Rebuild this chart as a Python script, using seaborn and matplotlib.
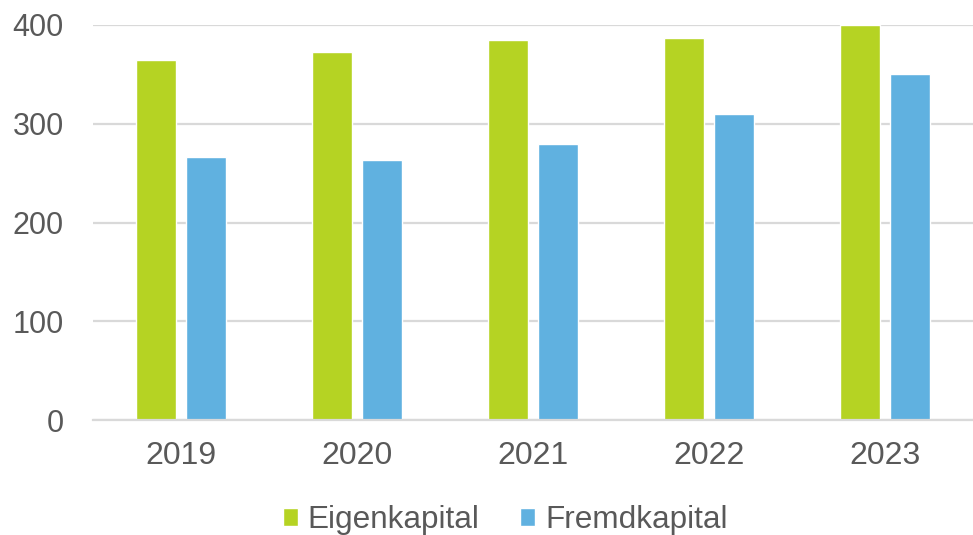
import pandas as pd
import seaborn as sns
import matplotlib.pyplot as plt

# Daten
jahre = ['2019', '2020', '2021', '2022', '2023']
eigenkapital = [365, 373, 385, 387, 400]
fremdkapital = [266, 263, 280, 310, 350]

df = pd.DataFrame({
    'Jahr': jahre * 2,
    'Wert': eigenkapital + fremdkapital,
    'Art': ['Eigenkapital'] * 5 + ['Fremdkapital'] * 5,
})

sns.set_theme(style='white')
plt.rcParams['font.family'] = ['Liberation Sans', 'DejaVu Sans']

grau = '#595959'
linie = '#D9D9D9'

fig = plt.figure(figsize=(9.73, 5.35), dpi=100)
ax = fig.add_axes([93 / 973, 115 / 535, 880 / 973, 395 / 535])

sns.barplot(data=df, x='Jahr', y='Wert', hue='Art',
            palette=['#B5D323', '#60B1E0'], width=0.574, gap=0.21,
            saturation=1, ax=ax, legend=True)

ax.set_ylim(0, 400)
ax.set_xlim(-0.5, 4.5)
ax.set_yticks([0, 100, 200, 300, 400])
ax.set(xlabel='', ylabel='')
ax.yaxis.grid(True, color=linie, linewidth=1.6)
ax.set_axisbelow(True)
for s in ['top', 'right', 'left']:
    ax.spines[s].set_visible(False)
ax.spines['bottom'].set_color(linie)
ax.spines['bottom'].set_linewidth(1.6)
ax.tick_params(axis='both', length=0, labelsize=22, colors=grau)
ax.tick_params(axis='y', pad=21)
ax.tick_params(axis='x', pad=15, labelsize=23)

ax.legend_.remove()
handles, labels = ax.get_legend_handles_labels()
fig.legend(handles, labels, loc='center', bbox_to_anchor=(0.519, 0.028),
           ncol=2, frameon=False, fontsize=22.7, labelcolor=grau,
           handlelength=0.48, handleheight=0.48, handletextpad=0.32,
           columnspacing=1.27)

plt.savefig('out.png', dpi=100)
